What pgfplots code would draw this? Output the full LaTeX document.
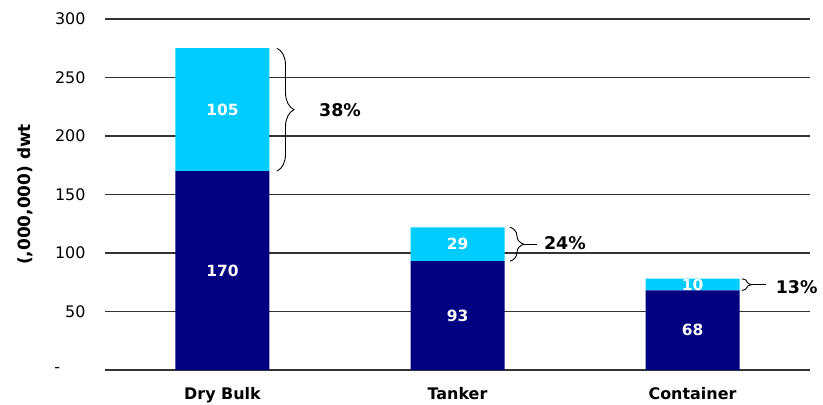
\documentclass[border=0pt]{standalone}
\usepackage{pgfplots}
\pgfplotsset{compat=1.18}
\usepackage{fontspec}
\setmainfont{DejaVu Sans}
\usetikzlibrary{decorations.pathreplacing}
\definecolor{navyc}{RGB}{0,0,128}
\definecolor{cyanc}{RGB}{0,204,255}
\tikzset{seglab/.style={text=white, font=\fontsize{15.5}{17}\selectfont\bfseries},
         pctlab/.style={font=\fontsize{17.5}{19}\selectfont\bfseries}}
\begin{document}
\begin{tikzpicture}
\begin{axis}[
  scale only axis,
  width=705bp, height=351bp,
  xmin=-0.5, xmax=2.5,
  ymin=0, ymax=300,
  ybar stacked,
  bar width=94bp,
  xtick={0,1,2},
  xticklabels={Dry Bulk,Tanker,Container},
  ytick={0,50,100,150,200,250,300},
  yticklabels={{\makebox[31bp][l]{-}},50,100,150,200,250,300},
  major tick length=0pt,
  axis line style={draw=none},
  ymajorgrids,
  grid style={black!80, line width=1.1bp},
  yticklabel style={font=\fontsize{16}{18}\selectfont, xshift=-16bp},
  xticklabel style={font=\fontsize{16}{18}\selectfont\bfseries, yshift=-14bp},
  ylabel={(,000,000) dwt},
  ylabel style={font=\fontsize{17}{19}\selectfont\bfseries},
  y label style={at={(axis description cs:-0.1135,0.5)}, rotate=0, anchor=center},
  clip=false,
]
\addplot[fill=navyc, draw=none] coordinates {(0,170) (1,93) (2,68)};
\addplot[fill=cyanc, draw=none] coordinates {(0,105) (1,29) (2,10)};

\coordinate (l1) at (axis cs:0,85);
\coordinate (l2) at (axis cs:0,222.5);
\coordinate (l3) at (axis cs:1,46.5);
\coordinate (l4) at (axis cs:1,107.5);
\coordinate (l5) at (axis cs:2,34);
\coordinate (l6) at (axis cs:2,73);

\draw[decorate, decoration={brace, amplitude=17bp}, line width=0.9bp]
  (axis cs:0.232,275) -- (axis cs:0.232,170);
\draw[decorate, decoration={brace, amplitude=14bp}, line width=0.9bp]
  (axis cs:1.223,122) -- (axis cs:1.223,93);
\draw[line width=1bp] (axis cs:1.28,107.5) -- (axis cs:1.338,107.5);
\draw[decorate, decoration={brace, amplitude=10bp}, line width=0.9bp]
  (axis cs:2.21,78) -- (axis cs:2.21,68);
\draw[line width=1bp] (axis cs:2.25,73) -- (axis cs:2.311,73);

\node[pctlab] at (axis cs:0.5,222) {38\%};
\node[pctlab] at (axis cs:1.457,108.5) {24\%};
\node[pctlab] at (axis cs:2.443,71) {13\%};

\coordinate (bbll) at (axis description cs:-0.1489,-0.0969);
\coordinate (bbur) at (axis description cs:1.0184,1.0541);
\end{axis}
\node[seglab] at (l1) {170};
\node[seglab] at (l2) {105};
\node[seglab] at (l3) {93};
\node[seglab] at (l4) {29};
\node[seglab] at (l5) {68};
\node[seglab] at (l6) {10};
\pgfresetboundingbox
\useasboundingbox (bbll) rectangle (bbur);
\end{tikzpicture}
\end{document}
